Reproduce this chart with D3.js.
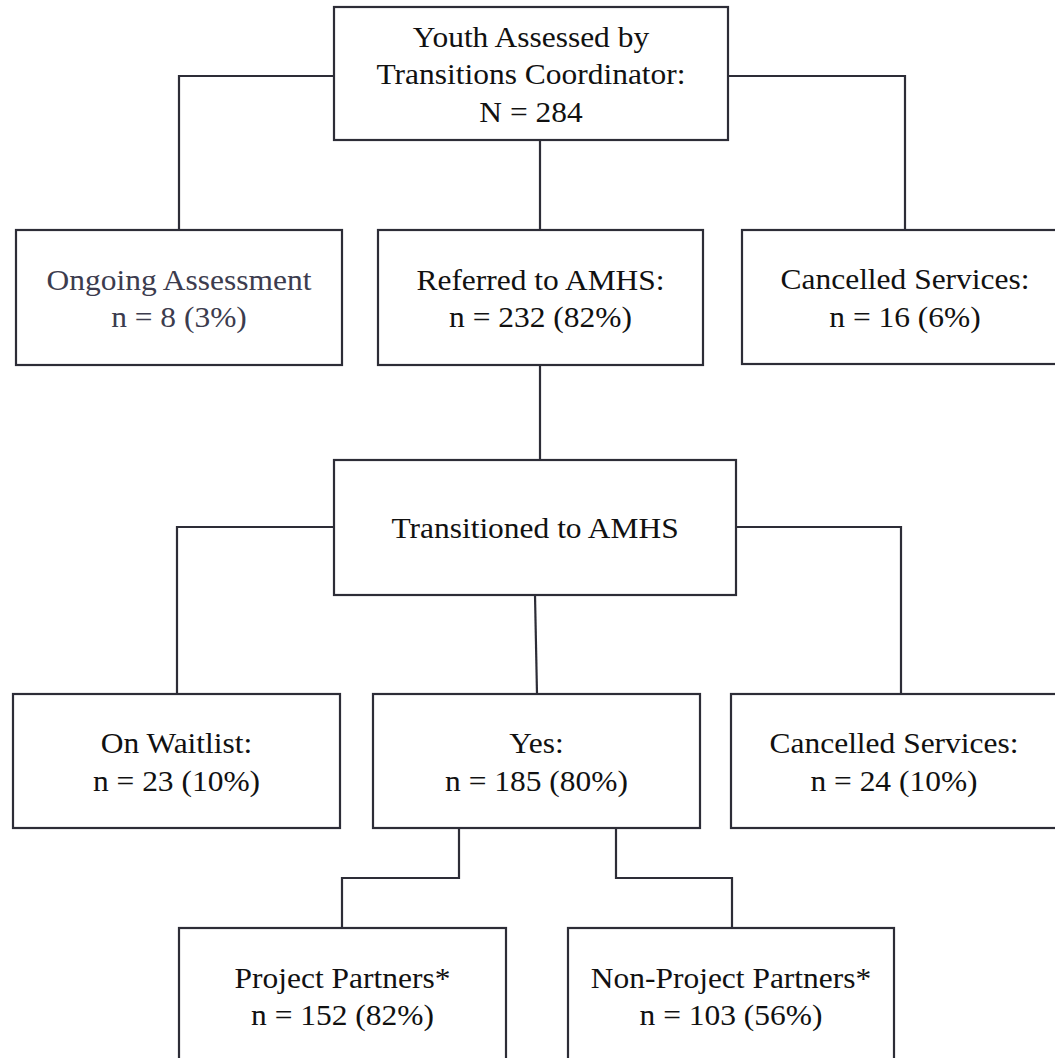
<!DOCTYPE html>
<html>
<head>
<meta charset="utf-8">
<script src="https://cdn.jsdelivr.net/npm/d3@7"></script>
<style>
  html, body { margin: 0; padding: 0; background: #fff; }
  #chart { width: 1055px; height: 1058px; overflow: hidden; }
  .nodes text { font-family: "Liberation Serif", "Times New Roman", "DejaVu Serif", serif; }
</style>
</head>
<body>
<div id="chart"></div>
<script>
// flowchart data
var nodeIds = ["root", "ongoing", "referred", "cancelled1", "transitioned",
               "waitlist", "yes", "cancelled2", "project", "nonproject"];
var nodeTitles = [["Youth Assessed by", "Transitions Coordinator:"], ["Ongoing Assessment"],
                  ["Referred to AMHS:"], ["Cancelled Services:"], ["Transitioned to AMHS"],
                  ["On Waitlist:"], ["Yes:"], ["Cancelled Services:"],
                  ["Project Partners*"], ["Non-Project Partners*"]];
var nodeCounts = [284, 8, 232, 16, null, 23, 185, 24, 152, 103];
var nodePercents = [null, 3, 82, 6, null, 10, 80, 10, 82, 56];
var nodeParents = [null, "root", "root", "root", "referred",
                   "transitioned", "transitioned", "transitioned", "yes", "yes"];

// layout (box geometry + connector routing), kept apart from the values
var boxes = {
  root:         {x: 334, y: 7,   w: 394, h: 133},
  ongoing:      {x: 16,  y: 230, w: 326, h: 135},
  referred:     {x: 378, y: 230, w: 325, h: 135},
  cancelled1:   {x: 742, y: 230, w: 326, h: 134},
  transitioned: {x: 334, y: 460, w: 402, h: 135},
  waitlist:     {x: 13,  y: 694, w: 327, h: 134},
  yes:          {x: 373, y: 694, w: 327, h: 134},
  cancelled2:   {x: 731, y: 694, w: 326, h: 134},
  project:      {x: 179, y: 928, w: 327, h: 140},
  nonproject:   {x: 568, y: 928, w: 326, h: 140}
};
var routes = {
  ongoing:      {from: "left",   y: 76,  tx: 179},
  referred:     {from: "bottom", sx: 540, tx: 540},
  cancelled1:   {from: "right",  y: 76,  tx: 905},
  transitioned: {from: "bottom", sx: 540, tx: 540},
  waitlist:     {from: "left",   y: 527, tx: 177},
  yes:          {from: "bottom", sx: 535, tx: 537, straight: true},
  cancelled2:   {from: "right",  y: 527, tx: 901},
  project:      {from: "bottom", sx: 459, midY: 878, tx: 342},
  nonproject:   {from: "bottom", sx: 616, midY: 878, tx: 732}
};

var stroke = "#2d2d37";
var lineH = 37.5;
var stretch = 1.085;   // the source figure is a little wider than tall

var nodes = nodeIds.map(function(id, i){
  var lines = nodeTitles[i].slice();
  if (nodeCounts[i] != null) {
    lines.push(nodePercents[i] == null ? "N = " + nodeCounts[i]
                                       : "n = " + nodeCounts[i] + " (" + nodePercents[i] + "%)");
  }
  return {id: id, lines: lines, parent: nodeParents[i], box: boxes[id]};
});

var svg = d3.select("#chart").append("svg")
    .attr("width", 1055)
    .attr("height", 1058);

//connectors
var line = d3.line();
function linkPoints(d){
  var s = boxes[d.parent], t = d.box, r = routes[d.id];
  if (r.from === "left")  return [[s.x, r.y], [r.tx, r.y], [r.tx, t.y]];
  if (r.from === "right") return [[s.x + s.w, r.y], [r.tx, r.y], [r.tx, t.y]];
  if (r.straight || r.sx === r.tx) return [[r.sx, s.y + s.h], [r.tx, t.y]];
  return [[r.sx, s.y + s.h], [r.sx, r.midY], [r.tx, r.midY], [r.tx, t.y]];
}

svg.append("g").attr("class", "links")
  .selectAll("path")
  .data(nodes.filter(function(d){ return d.parent; }))
  .enter().append("path")
    .attr("d", function(d){ return line(linkPoints(d)); })
    .attr("fill", "none")
    .attr("stroke", stroke)
    .attr("stroke-width", 2.2);

//boxes
var g = svg.append("g").attr("class", "nodes")
  .selectAll("g")
  .data(nodes)
  .enter().append("g")
    .attr("transform", function(d){ return "translate(" + d.box.x + "," + d.box.y + ")"; });

g.append("rect")
  .attr("width", function(d){ return d.box.w; })
  .attr("height", function(d){ return d.box.h; })
  .attr("fill", "#fff")
  .attr("stroke", stroke)
  .attr("stroke-width", 2.2);

g.append("text")
  .attr("text-anchor", "middle")
  .attr("font-size", 29)
  .attr("transform", function(d){ return "translate(" + (d.box.w / 2) + ",0) scale(" + stretch + ",1)"; })
  .attr("fill", function(d){ return d.id === "ongoing" ? "#3c3c4e" : "#111"; })
  .each(function(d){
    var n = d.lines.length;
    var cy = Math.min(d.box.h, 135) / 2 + 11;
    d3.select(this).selectAll("tspan")
      .data(d.lines)
      .enter().append("tspan")
        .attr("x", 0)
        .attr("y", function(t, i){ return cy + (i - (n - 1) / 2) * lineH; })
        .text(String);
  });
</script>
</body>
</html>
